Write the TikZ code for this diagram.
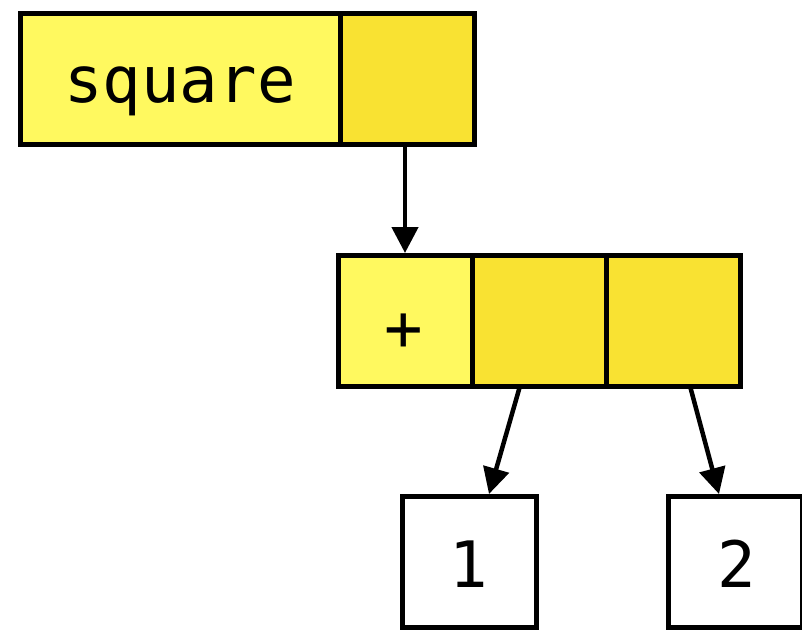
\documentclass[tikz,border=0pt]{standalone}
\usepackage{fontspec}
\setmonofont{DejaVu Sans Mono}
\usetikzlibrary{arrows.meta,calc}
\definecolor{carcell}{HTML}{FFF95F}
\definecolor{cdrcell}{HTML}{F9E232}
\begin{document}
\begin{tikzpicture}[x=1pt,y=-1pt,
  cell/.style={draw=black,line width=5pt,rectangle,inner sep=0pt,outer sep=0pt,
    minimum height=131pt},
  carbox/.style={cell,fill=carcell},
  cdrbox/.style={cell,fill=cdrcell},
  atombox/.style={cell,fill=white,minimum width=134pt},
  lbl/.style={font=\ttfamily\fontsize{64}{64}\selectfont,inner sep=0pt,anchor=base},
  ptr/.style={line width=4.5pt,-{Triangle[length=26pt,width=26pt]}}]
\useasboundingbox (0,0) rectangle (802,630);
% cons cell holding the symbol
\node[carbox,minimum width=320pt] (sq) at (180,78.5) {};
\node[cdrbox,minimum width=134pt] (sqp) at (407,78.5) {};
% three-slot list (+ 1 2)
\node[carbox,minimum width=134pt] (plus) at (405,320.5) {};
\node[cdrbox,minimum width=134pt] (a1) at (539,320.5) {};
\node[cdrbox,minimum width=134pt] (a2) at (673,320.5) {};
% atoms
\node[atombox] (one) at (469,561.5) {};
\node[atombox] (two) at (735,561.5) {};
% labels
\node[lbl] (tsq) at (180,102) {square};
\node[lbl] (tplus) at (404,350) {+};
\node[lbl] (tone) at (469,587) {1};
\node[lbl] (ttwo) at (737,587) {2};
% pointers
\draw[ptr] ($(sqp.south)+(-2,0)$) -- ($(plus.north)+(0,-2)$);
\draw[ptr] ($(a1.south)+(-19,0)$) -- ($(one.north)+(20,-2)$);
\draw[ptr] ($(a2.south)+(17,0)$) -- ($(two.north)+(-16,-2)$);
\end{tikzpicture}
\end{document}
